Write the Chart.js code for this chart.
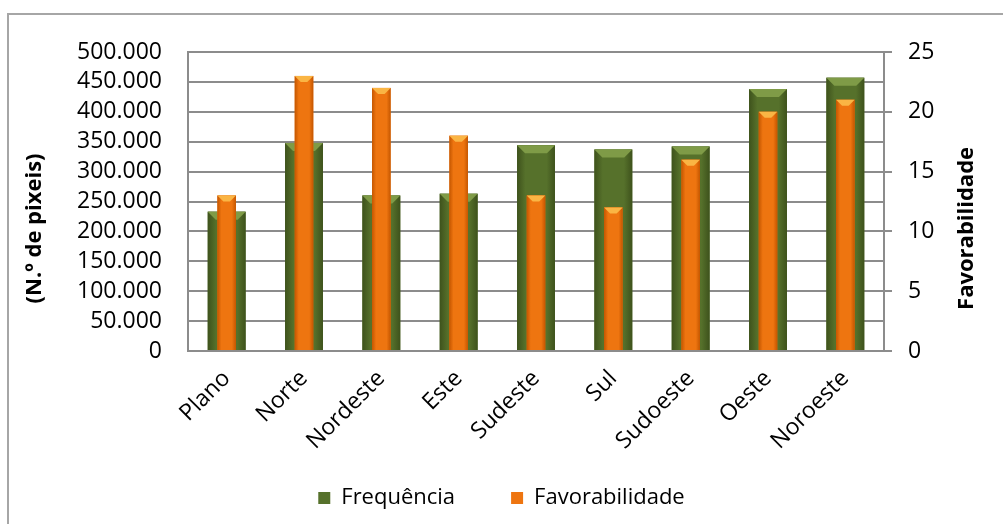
<!DOCTYPE html>
<html>
<head>
<meta charset="utf-8">
<script src="https://cdn.jsdelivr.net/npm/chart.js@4.4.0/dist/chart.umd.min.js"></script>
<style>
  html, body { margin: 0; padding: 0; background: #fff; }
  #wrap { position: relative; width: 1003px; height: 524px; overflow: hidden; }
  #frame { position: absolute; left: 7px; top: 13px; width: 1020px; height: 540px; border: 2px solid #a6a6a6; }
  canvas { position: absolute; left: 0; top: 0; }
</style>
</head>
<body>
<div id="wrap">
  <div id="frame"></div>
  <canvas id="my-chart" width="1003" height="524"></canvas>
</div>
<script>
'use strict';

// ******** DATA ********
let regions = ['Plano', 'Norte', 'Nordeste', 'Este', 'Sudeste', 'Sul', 'Sudoeste', 'Oeste', 'Noroeste'];
let frequencia = [233000, 348000, 260000, 263000, 344000, 337000, 342000, 438000, 457000];
let favorabilidade = [13, 23, 22, 18, 13, 12, 16, 20, 21];

// axis ranges
let freqMax = 500000;
let freqStep = 50000;
let favMax = 25;
let favStep = 5;

// ******** STYLES ********
let fontName = '"Open Sans", "Liberation Sans", sans-serif';
let barStyles = [
  { edge: '#3e521c', mid: '#56712b', light: '#7f9b47', bevel: 8 },
  { edge: '#c45600', mid: '#ee7510', light: '#fab544', bevel: 6 }
];

// dots as thousands separator, like the original
function formatThousands(value) {
  return String(value).replace(/\B(?=(\d{3})+(?!\d))/g, '.');
}

// ******** PLUGINS ********
// repaint each bar with a side shading and a light bevel on top
let bevelPlugin = {
  id: 'bevel',
  afterDatasetDraw(chart, args) {
    let ctx = chart.ctx;
    let style = barStyles[args.index];
    args.meta.data.forEach(function (bar) {
      let w = bar.width;
      let left = bar.x - w / 2;
      let top = bar.y;
      let h = bar.base - bar.y;
      let grad = ctx.createLinearGradient(left, 0, left + w, 0);
      grad.addColorStop(0, style.edge);
      grad.addColorStop(0.22, style.mid);
      grad.addColorStop(0.78, style.mid);
      grad.addColorStop(1, style.edge);
      ctx.save();
      ctx.fillStyle = grad;
      ctx.fillRect(left, top, w, h);
      let d = Math.min(style.bevel, w / 2);
      ctx.fillStyle = style.light;
      ctx.beginPath();
      ctx.moveTo(left, top);
      ctx.lineTo(left + w, top);
      ctx.lineTo(left + w - d, top + d);
      ctx.lineTo(left + d, top + d);
      ctx.closePath();
      ctx.fill();
      ctx.restore();
    });
  }
};

// axis titles (both read bottom to top)
let titlePlugin = {
  id: 'axisTitles',
  afterDraw(chart) {
    let ctx = chart.ctx;
    let area = chart.chartArea;
    let midY = area.top + (area.bottom - area.top) * 0.59;
    let titles = [
      { text: '(N.º de pixeis)', x: chart.scales.y.left + 35 },
      { text: 'Favorabilidade', x: chart.scales.y1.right - 36 }
    ];
    ctx.save();
    ctx.font = 'bold 22px ' + fontName;
    ctx.fillStyle = '#000';
    ctx.textAlign = 'center';
    ctx.textBaseline = 'middle';
    titles.forEach(function (t) {
      ctx.save();
      ctx.translate(t.x, midY);
      ctx.rotate(-Math.PI / 2);
      ctx.fillText(t.text, 0, 0);
      ctx.restore();
    });
    ctx.restore();
  }
};

// ******** CHART ********
let canvasElem = document.getElementById('my-chart');

let chartConfig = {
  type: 'bar',
  data: {
    labels: regions,
    datasets: [{
      label: 'Frequência',
      data: frequencia,
      yAxisID: 'y',
      order: 1,
      backgroundColor: barStyles[0].mid,
      borderWidth: 0,
      barPercentage: 0.49,
      categoryPercentage: 1,
      grouped: false
    },
    {
      label: 'Favorabilidade',
      data: favorabilidade,
      yAxisID: 'y1',
      order: 0,
      backgroundColor: barStyles[1].mid,
      borderWidth: 0,
      barPercentage: 0.24,
      categoryPercentage: 1,
      grouped: false
    }]
  },
  options: {
    responsive: false,
    animation: false,
    devicePixelRatio: 1,
    layout: {
      padding: { top: 52, left: 0, right: 0, bottom: 5 }
    },
    scales: {
      x: {
        grid: { display: false, drawTicks: false },
        border: { display: true, color: '#8c8c8c', width: 2 },
        ticks: {
          color: '#000',
          font: { family: fontName, size: 23 },
          minRotation: 45,
          maxRotation: 45,
          padding: 14,
          autoSkip: false
        },
        afterFit(scale) {
          scale.height = 80;
          // let the rotated labels run past the axis box, into the legend space
          scale._computeLabelArea = function () {};
        }
      },
      y: {
        position: 'left',
        min: 0,
        max: freqMax,
        border: { display: true, color: '#8c8c8c', width: 2 },
        grid: { color: '#8c8c8c', lineWidth: 2, drawTicks: false },
        ticks: {
          stepSize: freqStep,
          autoSkip: false,
          color: '#000',
          font: { family: fontName, size: 23 },
          padding: 26,
          callback: function (value) { return formatThousands(value); }
        },
        afterFit(scale) { scale.width = 188; }
      },
      y1: {
        position: 'right',
        min: 0,
        max: favMax,
        border: { display: true, color: '#8c8c8c', width: 2 },
        grid: { drawOnChartArea: false, color: '#8c8c8c', lineWidth: 2, tickLength: 8 },
        ticks: {
          stepSize: favStep,
          autoSkip: false,
          color: '#000',
          font: { family: fontName, size: 23 },
          padding: 16
        },
        afterFit(scale) { scale.width = 119; }
      }
    },
    plugins: {
      legend: {
        position: 'bottom',
        labels: {
          color: '#000',
          font: { family: fontName, size: 22 },
          boxWidth: 12,
          boxHeight: 12,
          padding: 56,
          sort: function (a, b) { return a.datasetIndex - b.datasetIndex; }
        }
      },
      tooltip: { enabled: false }
    }
  },
  plugins: [bevelPlugin, titlePlugin]
};

new Chart(canvasElem, chartConfig);
</script>
</body>
</html>
